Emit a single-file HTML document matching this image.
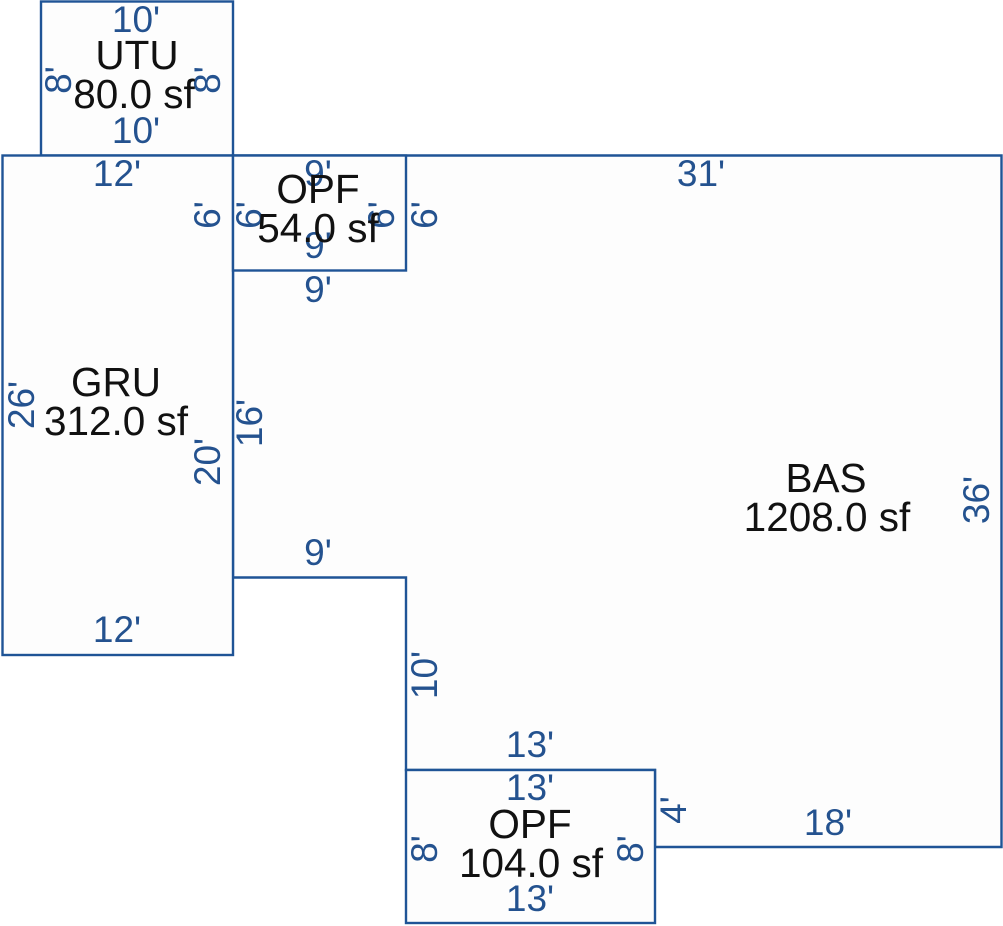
<!DOCTYPE html>
<html><head><meta charset="utf-8"><style>
html,body{margin:0;padding:0;background:#fff;width:1003px;height:926px;overflow:hidden}
svg{display:block}
text{font-family:"Liberation Sans",sans-serif}
.k{font-size:40.5px;fill:#111;text-anchor:middle}
.b{font-size:37px;fill:#24528f;text-anchor:middle}
.s{fill:#fdfdfd;stroke:#1f5496;stroke-width:2.4}
</style></head><body>
<svg width="1003" height="926" viewBox="0 0 1003 926" xmlns="http://www.w3.org/2000/svg">
<rect x="41" y="1.500" width="192" height="154" class="s"/>
<path class="s" d="M233 155.500H1001.500V847H655V770H406V577.500H233Z"/>
<rect x="2.500" y="155.500" width="230.500" height="499.500" class="s"/>
<rect x="233" y="155.500" width="173" height="115" class="s"/>
<rect x="406" y="770" width="249" height="153" class="s"/>

<g class="b">
<text class="b" x="136" y="32">10'</text>
<text class="b" x="136" y="143">10'</text>
<text class="b" x="117" y="186">12'</text>
<text class="b" x="318" y="186">9'</text>
<text class="b" x="701" y="186">31'</text>
<text class="b" x="318" y="258">9'</text>
<text class="b" x="318" y="302">9'</text>
<text class="b" x="318" y="565">9'</text>
<text class="b" x="117" y="642">12'</text>
<text class="b" x="530" y="757">13'</text>
<text class="b" x="530" y="800">13'</text>
<text class="b" x="530" y="911">13'</text>
<text class="b" x="828" y="835">18'</text>
<text class="b" transform="translate(71 80) rotate(-90)">8'</text>
<text class="b" transform="translate(220 80) rotate(-90)">8'</text>
<text class="b" transform="translate(220 215) rotate(-90)">6'</text>
<text class="b" transform="translate(262 215) rotate(-90)">6'</text>
<text class="b" transform="translate(394 215) rotate(-90)">6'</text>
<text class="b" transform="translate(437 215) rotate(-90)">6'</text>
<text class="b" transform="translate(34 405) rotate(-90)">26'</text>
<text class="b" transform="translate(262 423) rotate(-90)">16'</text>
<text class="b" transform="translate(220 462) rotate(-90)">20'</text>
<text class="b" transform="translate(989 500) rotate(-90)">36'</text>
<text class="b" transform="translate(437 675) rotate(-90)">10'</text>
<text class="b" transform="translate(437 849) rotate(-90)">8'</text>
<text class="b" transform="translate(643 849) rotate(-90)">8'</text>
<text class="b" transform="translate(686 810) rotate(-90)">4'</text>
</g>

<text class="k" x="137" y="69">UTU</text>
<text class="k" x="134" y="108">80.0 sf</text>
<text class="k" x="318" y="203">OPF</text>
<text class="k" x="318" y="242">54.0 sf</text>
<text class="k" x="116" y="396">GRU</text>
<text class="k" x="116" y="435">312.0 sf</text>
<text class="k" x="826" y="492">BAS</text>
<text class="k" x="827" y="531">1208.0 sf</text>
<text class="k" x="530" y="838">OPF</text>
<text class="k" x="531" y="877">104.0 sf</text>
</svg>
</body></html>
